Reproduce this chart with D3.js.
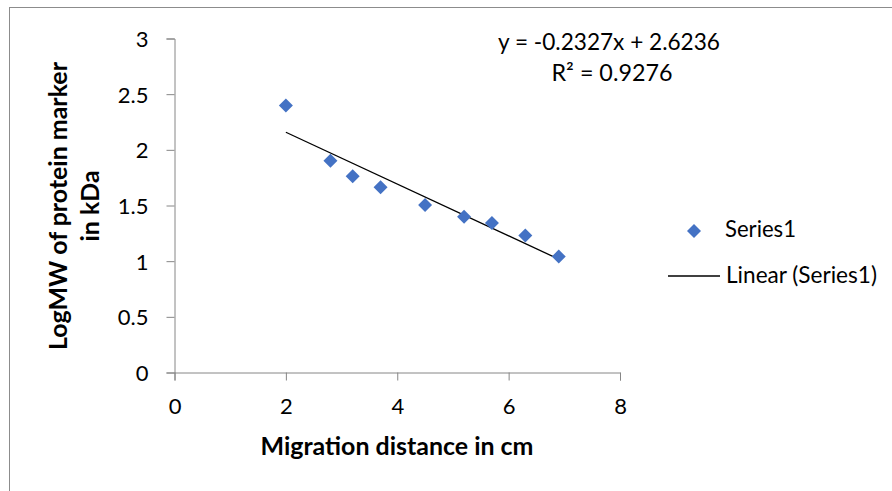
<!DOCTYPE html>
<html>
<head>
<meta charset="utf-8">
<script src="https://cdn.jsdelivr.net/npm/d3@7"></script>
<style>
  body { margin: 0; background: #fff; }
  text { font-family: Lato, "Noto Sans", sans-serif; fill: #000; }
</style>
</head>
<body>
<div id="chart"></div>
<script>
  /* data */
  let distances = [2, 2.8, 3.2, 3.7, 4.5, 5.2, 5.7, 6.3, 6.9]
  let logMW = [2.398, 1.903, 1.763, 1.663, 1.505, 1.398, 1.342, 1.230, 1.041]
  let xTicks = [0, 2, 4, 6, 8]
  let yTicks = [0, 0.5, 1, 1.5, 2, 2.5, 3]
  let slope = -0.2327
  let intercept = 2.6236
  let rSquared = 0.9276

  let w = 892
  let h = 491
  let blue = "#4472C4"
  let axisGrey = "#868686"

  let svg = d3.select("#chart")
      .append("svg")
      .attr("width", w)
      .attr("height", h)

  /* scale a text's font so it is as wide as in the picture */
  function fitWidth(sel, target) {
    let len = sel.node().getComputedTextLength()
    let size = parseFloat(sel.attr("font-size"))
    sel.attr("font-size", (size * target / len).toFixed(2) + "px")
    return sel
  }

  /* chart border */
  svg.append("rect")
      .attr("x", 9.5)
      .attr("y", 7.5)
      .attr("width", 950)
      .attr("height", 550)
      .attr("fill", "none")
      .attr("stroke", "#8c8c8c")

  let x = d3.scaleLinear().domain([0, 8]).range([174.5, 620])
  let y = d3.scaleLinear().domain([0, 3]).range([372.5, 38.5])

  /* axes */
  let xAxis = svg.append("g")
      .attr("transform", "translate(0," + y(0) + ")")
      .call(d3.axisBottom(x).tickValues(xTicks).tickSize(8).tickPadding(18).tickFormat(d3.format("d")))
  let yAxis = svg.append("g")
      .attr("transform", "translate(" + x(0) + ",0)")
      .call(d3.axisLeft(y).tickValues(yTicks).tickSize(8).tickPadding(18).tickFormat(d => d))

  for (let g of [xAxis, yAxis]) {
    g.select(".domain").attr("stroke", axisGrey)
    g.selectAll(".tick line").attr("stroke", axisGrey)
    g.selectAll(".tick text")
        .attr("font-family", "Lato, sans-serif")
        .attr("font-size", "22px")
        .attr("fill", "#000")
  }
  yAxis.selectAll(".tick text").attr("dy", "0.36em")

  /* trendline */
  let xMin = d3.min(distances)
  let xMax = d3.max(distances)
  svg.append("line")
      .attr("x1", x(xMin))
      .attr("y1", y(slope * xMin + intercept))
      .attr("x2", x(xMax))
      .attr("y2", y(slope * xMax + intercept))
      .attr("stroke", "#000")
      .attr("stroke-width", 1.3)

  /* points */
  let diamond = d3.symbol().type(d3.symbolSquare).size(98)
  svg.selectAll("path.pt")
      .data(distances)
      .enter()
      .append("path")
      .attr("class", "pt")
      .attr("d", diamond)
      .attr("fill", blue)
      .attr("transform", function (d, i) {
        return "translate(" + x(d) + "," + y(logMW[i]) + ") rotate(45)"
      })

  /* equation */
  fitWidth(svg.append("text")
      .attr("x", 609)
      .attr("y", 50)
      .attr("text-anchor", "middle")
      .attr("font-size", "21px")
      .text("y = " + slope + "x + " + intercept), 222)
  fitWidth(svg.append("text")
      .attr("x", 612)
      .attr("y", 81)
      .attr("text-anchor", "middle")
      .attr("font-size", "21px")
      .text("R² = " + rSquared), 121)

  /* axis titles */
  fitWidth(svg.append("text")
      .attr("x", 397)
      .attr("y", 455)
      .attr("text-anchor", "middle")
      .attr("font-size", "21px")
      .attr("font-weight", "bold")
      .text("Migration distance in cm"), 273)
  let yTitle = fitWidth(svg.append("text")
      .attr("transform", "translate(67,206) rotate(-90)")
      .attr("text-anchor", "middle")
      .attr("font-size", "21px")
      .attr("font-weight", "bold")
      .text("LogMW of protein marker"), 288)
  svg.append("text")
      .attr("transform", "translate(99,206) rotate(-90)")
      .attr("text-anchor", "middle")
      .attr("font-size", yTitle.attr("font-size"))
      .attr("font-weight", "bold")
      .text("in kDa")

  /* legend */
  svg.append("path")
      .attr("d", diamond)
      .attr("fill", blue)
      .attr("transform", "translate(694,231) rotate(45)")
  fitWidth(svg.append("text")
      .attr("x", 725)
      .attr("y", 237)
      .attr("font-size", "21px")
      .text("Series1"), 71)
  svg.append("line")
      .attr("x1", 668)
      .attr("x2", 720)
      .attr("y1", 276)
      .attr("y2", 276)
      .attr("stroke", "#000")
      .attr("stroke-width", 1.3)
  fitWidth(svg.append("text")
      .attr("x", 726)
      .attr("y", 283)
      .attr("font-size", "21px")
      .text("Linear (Series1)"), 151)
</script>
</body>
</html>
